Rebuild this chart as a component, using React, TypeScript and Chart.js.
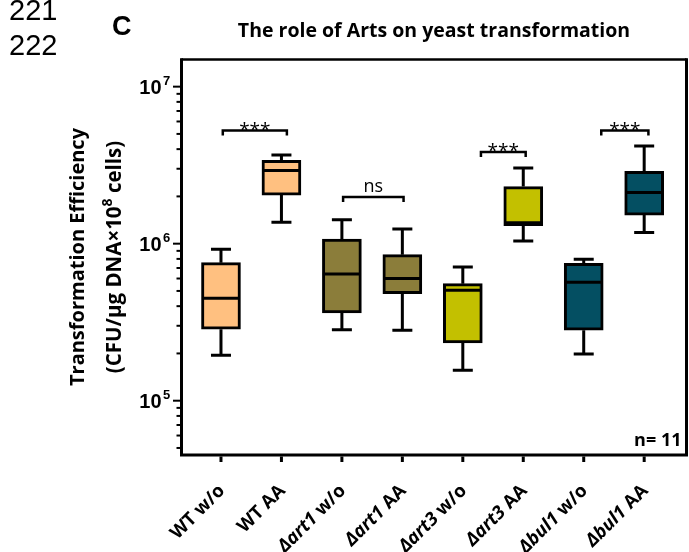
import React, { useEffect, useRef } from 'react';
import { Chart, registerables } from 'chart.js';

Chart.register(...registerables);

// ---------- data ----------
const categories = ['WT w/o', 'WT AA', 'Δart1 w/o', 'Δart1 AA', 'Δart3 w/o', 'Δart3 AA', 'Δbul1 w/o', 'Δbul1 AA'];
const whiskerMin = [1.95e5, 1.37e6, 2.83e5, 2.81e5, 1.56e5, 1.04e6, 1.98e5, 1.18e6];
const q1 = [2.85e5, 2.04e6, 3.62e5, 4.81e5, 2.33e5, 1.30e6, 2.81e5, 1.52e6];
const median = [4.49e5, 2.92e6, 6.41e5, 5.99e5, 5.05e5, 1.36e6, 5.68e5, 2.12e6];
const q3 = [7.57e5, 3.40e6, 1.07e6, 8.51e5, 5.56e5, 2.31e6, 7.50e5, 2.89e6];
const whiskerMax = [9.21e5, 3.67e6, 1.42e6, 1.24e6, 7.11e5, 3.03e6, 7.96e5, 4.19e6];
const boxColors = ['#FFC080', '#FFC080', '#8B7D3A', '#8B7D3A', '#C3C000', '#C3C000', '#044F62', '#044F62'];

// significance annotations (category index span, level, text)
const sigFrom = [0.03, 2.02, 4.3, 6.29];
const sigTo = [1.09, 3.02, 5.04, 7.07];
const sigLevel = [5.25e6, 1.98e6, 3.84e6, 5.25e6];
const sigText = ['***', 'ns', '***', '***'];

const yMajorTicks = [1e5, 1e6, 1e7];
const yMajorExp = ['5', '6', '7'];
const yMin = 4.51e4;
const yMax = 1.489e7;
const xMin = -0.653;
const xMax = 7.7;

const title = 'The role of Arts on yeast transformation';
const yTitle1 = 'Transformation Efficiency';
const yTitle2 = ['(CFU/μg DNA×10', '8', ' cells)'];
const nText = 'n= 11';
const panelLabel = 'C';
const lineNumbers = ['221', '222'];

const SANS = '"Open Sans", Lato, sans-serif';
const ARIAL = '"Liberation Sans", Arial, sans-serif';

const boxPlugin = {
  id: 'boxExtras',
  beforeDatasetsDraw(chart: any) {
    const ctx = chart.ctx;
    const xs = chart.scales.x;
    const ys = chart.scales.y;
    ctx.save();
    ctx.strokeStyle = '#000';
    ctx.lineWidth = 3;
    ctx.lineCap = 'butt';
    for (let i = 0; i < categories.length; i++) {
      const x = xs.getPixelForValue(i);
      const pMax = ys.getPixelForValue(whiskerMax[i]);
      const pMin = ys.getPixelForValue(whiskerMin[i]);
      const pQ1 = ys.getPixelForValue(q1[i]);
      const pQ3 = ys.getPixelForValue(q3[i]);
      ctx.beginPath();
      ctx.moveTo(x, pQ3);
      ctx.lineTo(x, pMax);
      ctx.moveTo(x - 10, pMax);
      ctx.lineTo(x + 10, pMax);
      ctx.moveTo(x, pQ1);
      ctx.lineTo(x, pMin);
      ctx.moveTo(x - 10, pMin);
      ctx.lineTo(x + 10, pMin);
      ctx.stroke();
    }
    ctx.restore();
  },
  afterDatasetsDraw(chart: any) {
    const ctx = chart.ctx;
    const xs = chart.scales.x;
    const ys = chart.scales.y;
    ctx.save();
    ctx.strokeStyle = '#000';
    ctx.lineWidth = 3;
    for (let i = 0; i < categories.length; i++) {
      const x = xs.getPixelForValue(i);
      const pm = ys.getPixelForValue(median[i]);
      ctx.beginPath();
      ctx.moveTo(x - 19, pm);
      ctx.lineTo(x + 19, pm);
      ctx.stroke();
    }
    // significance brackets
    ctx.lineWidth = 2.5;
    for (let i = 0; i < sigText.length; i++) {
      const x0 = xs.getPixelForValue(sigFrom[i]);
      const x1 = xs.getPixelForValue(sigTo[i]);
      const py = ys.getPixelForValue(sigLevel[i]);
      ctx.beginPath();
      ctx.moveTo(x0, py + 5);
      ctx.lineTo(x0, py);
      ctx.lineTo(x1, py);
      ctx.lineTo(x1, py + 5);
      ctx.stroke();
      ctx.fillStyle = '#000';
      ctx.textAlign = 'center';
      ctx.textBaseline = 'alphabetic';
      if (sigText[i] === 'ns') {
        ctx.font = `18px ${SANS}`;
        ctx.fillText(sigText[i], (x0 + x1) / 2, py - 5);
      } else {
        ctx.font = `19px ${SANS}`;
        ctx.fillText(sigText[i], (x0 + x1) / 2, py + 5.5);
      }
    }
    ctx.restore();
  },
  afterDraw(chart: any) {
    const ctx = chart.ctx;
    const xs = chart.scales.x;
    const ys = chart.scales.y;
    const { left, right, top, bottom } = chart.chartArea;
    ctx.save();
    ctx.strokeStyle = '#000';
    ctx.fillStyle = '#000';
    // frame
    ctx.lineWidth = 2.5;
    ctx.beginPath();
    ctx.moveTo(left, top);
    ctx.lineTo(right, top);
    ctx.stroke();
    ctx.lineWidth = 3;
    ctx.beginPath();
    ctx.moveTo(right, top - 1.2);
    ctx.lineTo(right, bottom + 1.5);
    ctx.moveTo(left, top - 1.2);
    ctx.lineTo(left, bottom + 1.5);
    ctx.moveTo(left - 1.5, bottom);
    ctx.lineTo(right + 1.5, bottom);
    ctx.stroke();

    // y ticks
    ctx.lineWidth = 2;
    for (let d = 4; d <= 7; d++) {
      for (let k = 1; k <= 9; k++) {
        const v = k * Math.pow(10, d);
        if (v < yMin || v > yMax) continue;
        const py = ys.getPixelForValue(v);
        const len = k === 1 ? 7 : 3.5;
        ctx.beginPath();
        ctx.moveTo(left - 1.5, py);
        ctx.lineTo(left - 1.5 - len, py);
        ctx.stroke();
      }
    }
    // y labels
    ctx.textBaseline = 'alphabetic';
    for (let i = 0; i < yMajorTicks.length; i++) {
      const py = ys.getPixelForValue(yMajorTicks[i]);
      ctx.font = `bold 20px ${ARIAL}`;
      ctx.textAlign = 'right';
      ctx.fillText('10', left - 20, py + 7.3);
      ctx.font = `bold 13px ${ARIAL}`;
      ctx.textAlign = 'left';
      ctx.fillText(yMajorExp[i], left - 18.5, py - 1.7);
    }

    // x ticks and labels
    ctx.lineWidth = 3;
    for (let i = 0; i < categories.length; i++) {
      const px = xs.getPixelForValue(i);
      ctx.beginPath();
      ctx.moveTo(px, bottom + 1.5);
      ctx.lineTo(px, bottom + 7);
      ctx.stroke();

      const label = categories[i];
      const sp = label.indexOf(' ');
      const strain = label.slice(0, sp);
      const rest = label.slice(sp);
      const italic = strain.startsWith('Δ');
      const f1 = `${italic ? 'italic ' : ''}bold 18.5px ${SANS}`;
      const f2 = `bold 18.5px ${SANS}`;
      ctx.save();
      ctx.translate(px + 1, bottom + 33);
      ctx.rotate(-Math.PI / 4);
      ctx.textBaseline = 'middle';
      ctx.textAlign = 'right';
      ctx.font = f2;
      const w2 = ctx.measureText(rest).width;
      ctx.fillText(rest, 0, 0);
      ctx.font = f1;
      ctx.fillText(strain, -w2, 0);
      ctx.restore();
    }

    // n text
    ctx.font = `bold 18px ${SANS}`;
    ctx.textAlign = 'right';
    ctx.textBaseline = 'alphabetic';
    ctx.fillText(nText, right - 5, bottom - 9);

    // title
    ctx.font = `bold 19.5px ${SANS}`;
    ctx.textAlign = 'center';
    ctx.fillText(title, (left + right) / 2, 37);

    // line numbers and panel label
    ctx.font = `29px ${ARIAL}`;
    ctx.textAlign = 'left';
    ctx.fillText(lineNumbers[0], 9, 20);
    ctx.fillText(lineNumbers[1], 9, 55);
    ctx.font = `bold 27px ${ARIAL}`;
    ctx.fillText(panelLabel, 112, 35);

    // y title
    const cy = 257;
    ctx.save();
    ctx.translate(84, cy);
    ctx.rotate(-Math.PI / 2);
    ctx.font = `bold 20px ${SANS}`;
    ctx.textAlign = 'center';
    ctx.fillText(yTitle1, 0, 0);
    ctx.restore();

    ctx.save();
    ctx.translate(121, cy);
    ctx.rotate(-Math.PI / 2);
    const fMain = `bold 20.5px ${SANS}`;
    const fSup = `bold 14px ${SANS}`;
    ctx.font = fMain;
    const wa = ctx.measureText(yTitle2[0]).width;
    const wc = ctx.measureText(yTitle2[2]).width;
    ctx.font = fSup;
    const wb = ctx.measureText(yTitle2[1]).width;
    const total = wa + wb + wc;
    let xx = -total / 2;
    ctx.textAlign = 'left';
    ctx.font = fMain;
    ctx.fillText(yTitle2[0], xx, 0);
    xx += wa;
    ctx.font = fSup;
    ctx.fillText(yTitle2[1], xx, -9);
    xx += wb;
    ctx.font = fMain;
    ctx.fillText(yTitle2[2], xx, 0);
    ctx.restore();

    ctx.restore();
  },
};

export default function App() {
  const ref = useRef<HTMLCanvasElement | null>(null);
  useEffect(() => {
    if (!ref.current) return;
    const chart = new Chart(ref.current, {
      type: 'bar',
      data: {
        datasets: [
          {
            data: categories.map((_, i) => ({ x: i, y: [q1[i], q3[i]] })) as any,
            backgroundColor: boxColors,
            borderColor: '#000',
            borderWidth: 3,
            borderSkipped: false,
            barThickness: 39,
          },
        ],
      },
      options: {
        responsive: false,
        animation: false,
        devicePixelRatio: 1,
        layout: { padding: { left: 181.5, top: 59.5, right: 2.5, bottom: 97 } },
        plugins: { legend: { display: false }, tooltip: { enabled: false }, title: { display: false } },
        scales: {
          x: { type: 'linear', min: xMin, max: xMax, display: false, offset: false },
          y: { type: 'logarithmic', min: yMin, max: yMax, display: false },
        },
      },
      plugins: [boxPlugin],
    });
    return () => chart.destroy();
  }, []);
  return (
    <div style={{ position: 'absolute', left: 0, top: 0, width: 689, height: 552, background: '#fff' }}>
      <canvas ref={ref} width={689} height={552} style={{ display: 'block' }} />
    </div>
  );
}
